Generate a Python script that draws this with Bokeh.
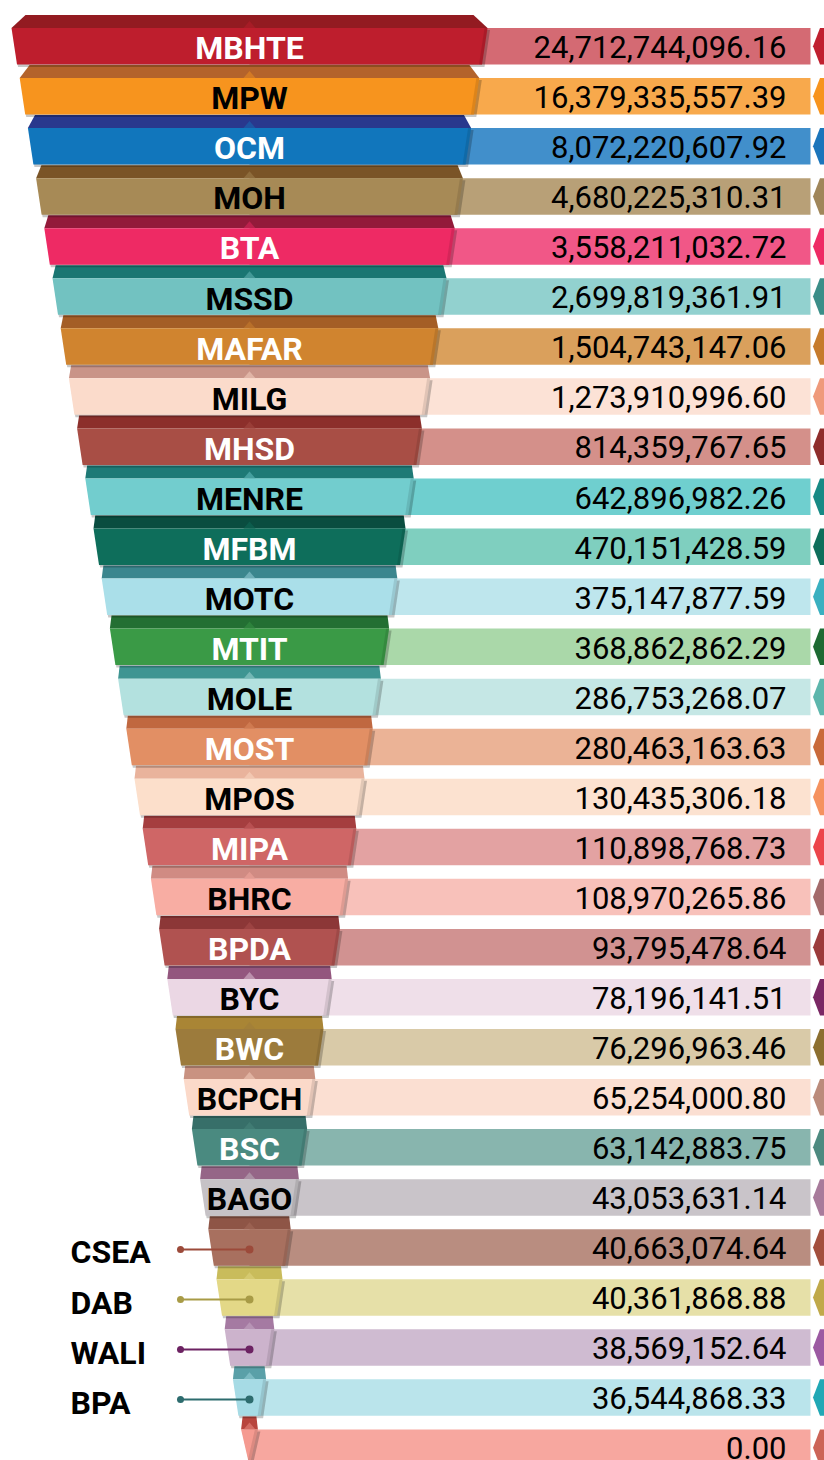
import numpy as np
from bokeh.plotting import figure
from bokeh.models import Range1d
from bokeh.core.properties import value
from bokeh.embed import file_html
from bokeh.resources import INLINE

# ---------------- data ----------------
names = ["MBHTE", "MPW", "OCM", "MOH", "BTA", "MSSD", "MAFAR", "MILG", "MHSD",
         "MENRE", "MFBM", "MOTC", "MTIT", "MOLE", "MOST", "MPOS", "MIPA", "BHRC",
         "BPDA", "BYC", "BWC", "BCPCH", "BSC", "BAGO", "CSEA", "DAB", "WALI", "BPA", ""]
values = [24712744096.16, 16379335557.39, 8072220607.92, 4680225310.31,
          3558211032.72, 2699819361.91, 1504743147.06, 1273910996.60,
          814359767.65, 642896982.26, 470151428.59, 375147877.59, 368862862.29,
          286753268.07, 280463163.63, 130435306.18, 110898768.73, 108970265.86,
          93795478.64, 78196141.51, 76296963.46, 65254000.80, 63142883.75,
          43053631.14, 40663074.64, 40361868.88, 38569152.64, 36544868.33, 0.00]
outside_names = ["CSEA", "DAB", "WALI", "BPA"]

body_colors = ["#BE1E2D", "#F7941E", "#1176BC", "#A78A56", "#EE2A64", "#72C2C1",
               "#D0842F", "#FBDBCB", "#A84E45", "#72CDCE", "#0E6E5B", "#AADFE9",
               "#3A9A46", "#B3E1DF", "#E28F64", "#FCDFCB", "#CF6666", "#F8ADA3",
               "#B05250", "#EBD7E4", "#9C7B3C", "#FBD9C9", "#4A8A80", "#C6C2C6",
               "#A8705F", "#E3D887", "#CCB3CC", "#A6DBE5", "#F59A90"]
cap_colors = ["#931B21", "#B4632B", "#29388D", "#7A5427", "#931A3A", "#1A7672",
              "#A45E26", "#C99488", "#8C2F2B", "#1E7A76", "#0A4D40", "#3B868E",
              "#236F33", "#3E9592", "#C06840", "#E9B39C", "#A53E3F", "#D08B83",
              "#8C3737", "#93567E", "#A98535", "#C99281", "#376F69", "#956687",
              "#8E5546", "#C9BC5B", "#A57AA2", "#5AA0A8", "#B8453E"]
band_colors = ["#D46A73", "#F8A94C", "#418FCB", "#B8A077", "#F15787", "#92D1CF",
               "#DAA05C", "#FCE2D6", "#D4908A", "#6FCFCF", "#7FCFBF", "#BEE6ED",
               "#AAD8A9", "#C5E7E5", "#EBB396", "#FCE2D0", "#E3A2A2", "#F8C1BA",
               "#D19291", "#EFDFE9", "#D9CAA8", "#FBDFD2", "#88B5AE", "#C9C4C9",
               "#B98D80", "#E6E0A8", "#CFBBD1", "#BAE4EB", "#F7A79F"]
marker_colors = ["#C0202F", "#F7941E", "#1B75BB", "#A0865A", "#EE2A64", "#3B8E88",
                 "#C67B2C", "#EF9A7B", "#8F2D2B", "#178A85", "#0E6E5B", "#3AB0C0",
                 "#1D6A32", "#5DB6AC", "#C96A3A", "#F5925F", "#EC454B", "#A46A6A",
                 "#9C3B3B", "#7A2864", "#8C6F30", "#BB8B7B", "#4D8A80", "#A87B9B",
                 "#A34F3D", "#C0A94A", "#9C5AA2", "#21A8B5", "#CC6457"]
label_colors = ["white", "black", "white", "black", "white", "black", "white",
                "black", "white", "black", "white", "black", "white", "black",
                "white", "black", "white", "black", "white", "black", "white",
                "black", "white", "black"]
connector_colors = ["#9C4A3A", "#A89B46", "#6C2262", "#2D6C6E"]

# ---------------- geometry (styling constants) ----------------
CX = 249.0
TOP0 = 27.5
PITCH = 50.05
BODY_H = 36.5
CAP_H = 13.0
HW0 = 238.0
STEP = 8.2
TAPER = 5.5
BAND_END = 810.0
MARK_TIP = 812.5
MARK_W = 7.0
VAL_X = 786.0
OUT_X = 70.0
CONN_X0 = 180.0
FONT = "Roboto"

n = len(names)
idx = np.arange(n)
top = TOP0 + idx * PITCH
bot = top + BODY_H
mid = top + BODY_H / 2
hw_top = HW0 - STEP * idx
hw_bot = np.where(idx == n - 1, 0.0, hw_top - TAPER)
inset = 1.5 + 12.5 * np.exp(-idx / 2.5)


def blend(c1, c2, t):
    a = [int(c1[i:i + 2], 16) for i in (1, 3, 5)]
    b = [int(c2[i:i + 2], 16) for i in (1, 3, 5)]
    return "#" + "".join(f"{int(round(x + (y - x) * t)):02X}" for x, y in zip(a, b))


p = figure(width=824, height=1460, x_range=Range1d(0, 824), y_range=Range1d(1460, 0),
           output_backend="svg", toolbar_location=None, min_border=0,
           outline_line_color=None, background_fill_color="white")
p.axis.visible = False
p.grid.visible = False

# value bands
p.quad(left=CX, right=BAND_END, top=top, bottom=bot, fill_color=band_colors,
       line_color=None)
# right-edge markers
mx = [[MARK_TIP + MARK_W, MARK_TIP, MARK_TIP + MARK_W, 840, 840] for _ in idx]
my = [[t, m, b, b, t] for t, m, b in zip(top, mid, bot)]
p.patches(mx, my, fill_color=marker_colors, line_color=None)

# caps
cxs = [[CX - h + s, CX + h - s, CX + h, CX - h] for h, s in zip(hw_top, inset)]
cys = [[t - CAP_H, t - CAP_H, t, t] for t in top]
p.patches(cxs, cys, fill_color=cap_colors, line_color=None)
# centre notches
notch_cols = [blend(c, b, 0.45) for c, b in zip(cap_colors, body_colors)]
nxs = [[CX - 6, CX, CX + 6] for _ in idx]
nys = [[t, t - 7, t] for t in top]
p.patches(nxs, nys, fill_color=notch_cols, line_color=None)

# shadows
sxs = [[CX - a + 1, CX + a + 2.5, CX + b + 2.5, CX - b + 1] for a, b in zip(hw_top, hw_bot)]
sys_ = [[t + 2, t + 2, bb + 2.5, bb + 2.5] for t, bb in zip(top, bot)]
p.patches(sxs, sys_, fill_color="black", fill_alpha=0.22, line_color=None)

# bodies
bxs = [[CX - a, CX + a, CX + b, CX - b] for a, b in zip(hw_top, hw_bot)]
bys = [[t, t, bb, bb] for t, bb in zip(top, bot)]
p.patches(bxs, bys, fill_color=body_colors, line_color=None)
# right bevel
rbx = [[CX + a - 3, CX + a, CX + b, CX + b - 3] for a, b in zip(hw_top, hw_bot)]
p.patches(rbx, bys, fill_color="black", fill_alpha=0.10, line_color=None)

# labels inside
k = len(label_colors)
p.text(x=[CX] * k, y=list(mid[:k] + 2.0), text=names[:k], text_color=label_colors,
       text_align="center", text_baseline="alphabetic",
       text_font=value(FONT), text_font_style="bold", text_font_size="32px")

# outside labels with connectors
o0 = names.index(outside_names[0])
oy = mid[o0:o0 + len(outside_names)] + 2
p.segment(x0=CONN_X0, x1=CX, y0=oy, y1=oy, line_color=connector_colors, line_width=2)
p.scatter(x=[CONN_X0] * len(oy), y=oy, size=7, fill_color=connector_colors,
          line_color=None)
p.scatter(x=[CX] * len(oy), y=oy, size=8, fill_color=connector_colors, line_color=None)
p.text(x=[OUT_X] * len(oy), y=list(oy + 3), text=outside_names, text_color="black",
       text_align="left", text_baseline="alphabetic",
       text_font=value(FONT), text_font_style="bold", text_font_size="32px")

# values
p.text(x=[VAL_X] * n, y=list(mid + 0.8), text=[f"{v:,.2f}" for v in values],
       text_color="black", text_align="right", text_baseline="alphabetic",
       text_font=value(FONT), text_font_size="31px")

open("out.html", "w").write(file_html(p, INLINE))
